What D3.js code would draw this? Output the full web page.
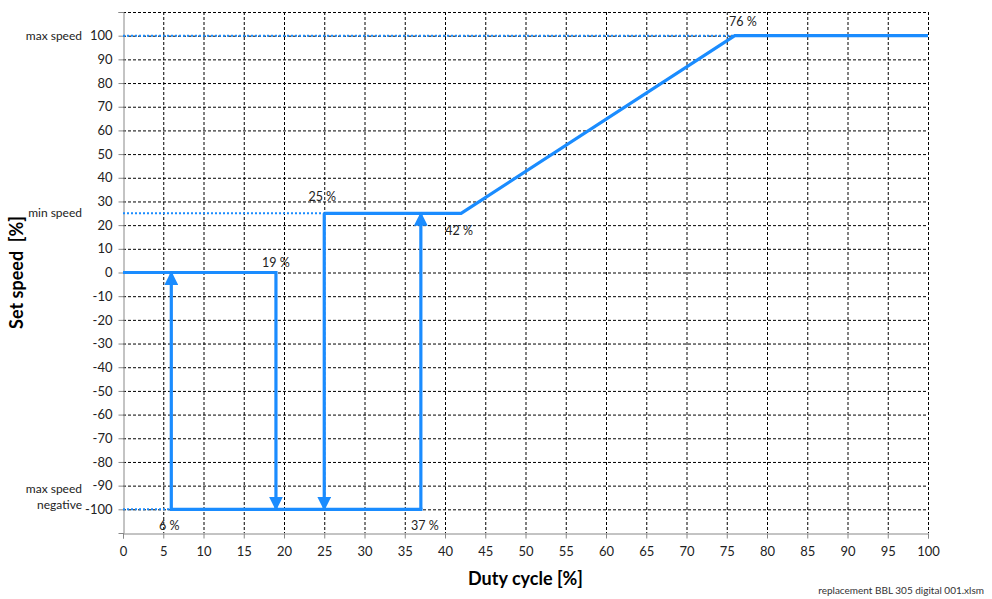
<!DOCTYPE html>
<html>
<head>
<meta charset="utf-8">
<script src="https://cdn.jsdelivr.net/npm/d3@7"></script>
<style>
  body { margin: 0; background: #fff; }
  svg { display: block; font-family: Lato, "Open Sans", sans-serif; }
</style>
</head>
<body>
<svg id="chart"></svg>
<script>
const width = 992;
const height = 599;

// tick values
const xTicks = d3.range(0, 101, 5);
const yTicks = d3.range(-100, 101, 10);

// blue polylines (duty cycle %, set speed %)
const lineUpper = [[25, 25], [42, 25], [76, 100], [100, 100]];
const lineZero = [[0, 0], [19, 0], [19, -100]];
const lineBottom = [[6, -100], [37, -100]];
const lineUp6 = [[6, -100], [6, 0]];
const lineUp37 = [[37, -100], [37, 25]];
const lineDown25 = [[25, 25], [25, -100]];
const arrowLines = [lineZero, lineUp6, lineUp37, lineDown25];

// dotted guides
const guides = [[[0, 100], [76, 100]], [[0, 25], [25, 25]], [[0, -100], [6, -100]]];

// point labels
const pointLabels = [
  { x: 6, y: -100, text: "6 %", dx: -2, dy: 21 },
  { x: 19, y: 0, text: "19 %", dx: 0, dy: -6 },
  { x: 25, y: 25, text: "25 %", dx: -2, dy: -12 },
  { x: 42, y: 25, text: "42 %", dx: -2, dy: 22 },
  { x: 37, y: -100, text: "37 %", dx: 4, dy: 21 },
  { x: 76, y: 100, text: "76 %", dx: 8, dy: -10 }
];

// names beside the y axis
const yNames = [
  { y: 100, lines: ["max speed"] },
  { y: 25, lines: ["min speed"] },
  { y: -95, lines: ["max speed", "negative"] }
];

const blue = "#1a8cff";

const svg = d3.select("#chart").attr("width", width).attr("height", height);

const x = d3.scaleLinear().domain([0, 100]).range([123, 928]);
const y = d3.scaleLinear().domain([-110, 110]).range([533, 12]);

// grid
const grid = svg.append("g").attr("stroke", "#000").attr("stroke-width", 1)
  .attr("stroke-dasharray", "3,2");
grid.selectAll(".gx").data(xTicks.filter(d => d > 0)).enter().append("line")
  .attr("x1", d => x(d) + 0.5).attr("x2", d => x(d) + 0.5)
  .attr("y1", y(110)).attr("y2", y(-110));
grid.selectAll(".gy").data(yTicks.concat([110])).enter().append("line")
  .attr("x1", x(0)).attr("x2", x(100))
  .attr("y1", d => y(d) + 0.5).attr("y2", d => y(d) + 0.5);

// axes
const xAxis = svg.append("g").attr("transform", `translate(0,${y(-110) + 0.5})`)
  .call(d3.axisBottom(x).tickValues(xTicks).tickSize(5).tickPadding(8));
const yAxis = svg.append("g").attr("transform", `translate(${x(0) + 0.5},0)`)
  .call(d3.axisLeft(y).tickValues(yTicks.concat([110])).tickFormat(d => d === 110 ? "" : d).tickSize(5).tickPadding(6));
[xAxis, yAxis].forEach(a => {
  a.select(".domain").attr("stroke", "#888");
  a.selectAll(".tick line").attr("stroke", "#888");
  a.selectAll(".tick text").attr("font-size", 13).attr("fill", "#222")
    .attr("font-family", "Lato, sans-serif");
});

// dotted guides
const line = d3.line().x(d => x(d[0])).y(d => y(d[1]));
svg.selectAll(".guide").data(guides).enter().append("path")
  .attr("d", line).attr("fill", "none").attr("stroke", blue)
  .attr("stroke-width", 2).attr("stroke-dasharray", "2,2");

// arrow marker
svg.append("defs").append("marker")
  .attr("id", "arrow").attr("viewBox", "0 0 10 10")
  .attr("refX", 9).attr("refY", 5)
  .attr("markerWidth", 4.3).attr("markerHeight", 4.3)
  .attr("markerUnits", "strokeWidth").attr("orient", "auto")
  .append("path").attr("d", "M0,0L10,5L0,10Z").attr("fill", blue);

svg.append("path").attr("d", line(lineUpper)).attr("fill", "none")
  .attr("stroke", blue).attr("stroke-width", 3.2);
svg.append("path").attr("d", line(lineBottom)).attr("fill", "none")
  .attr("stroke", blue).attr("stroke-width", 3.2).attr("stroke-linecap", "square");
svg.selectAll(".arr").data(arrowLines).enter().append("path")
  .attr("d", line).attr("fill", "none").attr("stroke", blue)
  .attr("stroke-width", 3.2).attr("marker-end", "url(#arrow)");

// point labels
svg.selectAll(".pl").data(pointLabels).enter().append("text")
  .attr("x", d => x(d.x) + d.dx).attr("y", d => y(d.y) + d.dy)
  .attr("text-anchor", "middle").attr("font-size", 12.5).attr("fill", "#222")
  .text(d => d.text);

// y names
yNames.forEach(n => {
  const t = svg.append("text").attr("x", 82).attr("y", y(n.y) + 4 - (n.lines.length - 1) * 8)
    .attr("text-anchor", "end").attr("font-size", 12).attr("fill", "#222");
  n.lines.forEach((l, i) => t.append("tspan").attr("x", 82).attr("dy", i ? 16 : 0).text(l));
});

// titles
svg.append("text").attr("transform", `translate(23,${y(0)}) rotate(-90)`)
  .attr("text-anchor", "middle").attr("font-size", 18).attr("font-weight", "bold")
  .style("white-space", "pre")
  .text("Set speed  [%]");
svg.append("text").attr("x", x(50)).attr("y", 585)
  .attr("text-anchor", "middle").attr("font-size", 18).attr("font-weight", "bold")
  .text("Duty cycle [%]");
svg.append("text").attr("x", 984).attr("y", 594)
  .attr("text-anchor", "end").attr("font-size", 10).attr("fill", "#333")
  .text("replacement BBL 305 digital 001.xlsm");
</script>
</body>
</html>
